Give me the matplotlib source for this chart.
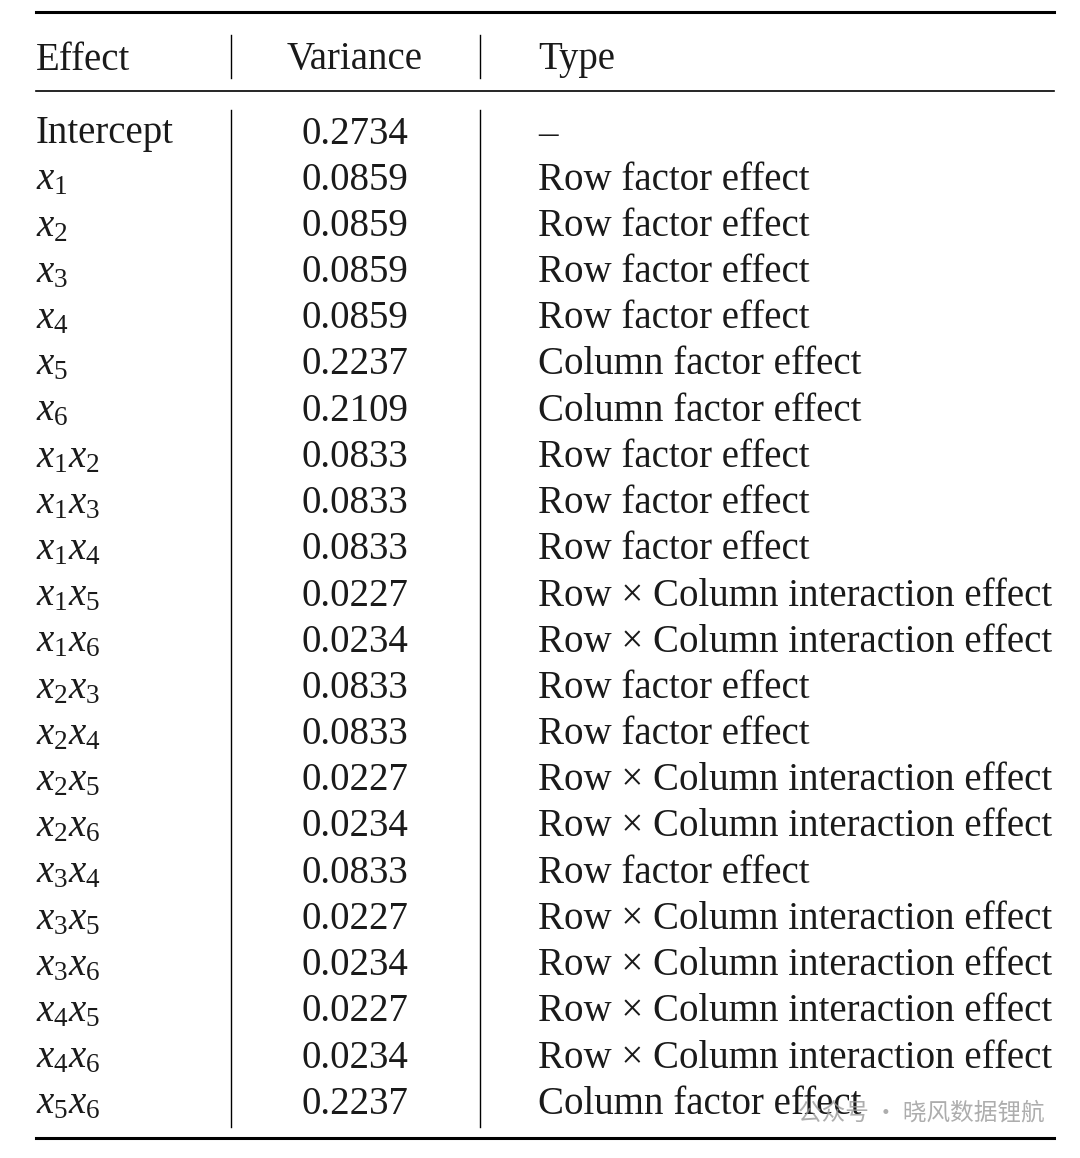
import matplotlib.pyplot as plt

plt.rcParams['mathtext.fontset'] = 'custom'
plt.rcParams['mathtext.rm'] = 'Liberation Serif'
plt.rcParams['mathtext.it'] = 'Liberation Serif:italic'

headers = ["Effect", "Variance", "Type"]
effects = ["Intercept", "x_1", "x_2", "x_3", "x_4", "x_5", "x_6",
           "x_1x_2", "x_1x_3", "x_1x_4", "x_1x_5", "x_1x_6",
           "x_2x_3", "x_2x_4", "x_2x_5", "x_2x_6",
           "x_3x_4", "x_3x_5", "x_3x_6", "x_4x_5", "x_4x_6", "x_5x_6"]
variances = ["0.2734", "0.0859", "0.0859", "0.0859", "0.0859", "0.2237", "0.2109",
             "0.0833", "0.0833", "0.0833", "0.0227", "0.0234",
             "0.0833", "0.0833", "0.0227", "0.0234",
             "0.0833", "0.0227", "0.0234", "0.0227", "0.0234", "0.2237"]
R = "Row factor effect"
C = "Column factor effect"
I = "Row \u00d7 Column interaction effect"
types = ["\u2013", R, R, R, R, C, C, R, R, R, I, I, R, R, I, I, R, I, I, I, I, C]


def math_label(e):
    if e == "Intercept":
        return e
    out = ""
    for part in e.split("x_")[1:]:
        out += "\\mathit{x}_{" + part + "}"
    return "$" + out + "$"


fig = plt.figure(figsize=(10.8, 11.58), dpi=100)
ax = fig.add_axes([0, 0, 1, 1])
ax.set_xlim(0, 1080)
ax.set_ylim(1158, 0)
ax.axis('off')

fs = 28
font = dict(family='Liberation Serif', fontsize=fs, color='#1a1a1a')

ax.text(36, 60, headers[0], ha='left', va='center', **font)
ax.text(355, 60, headers[1], ha='center', va='center', **font)
ax.text(538, 60, headers[2], ha='left', va='center', **font)

y0, dy = 134, 46.2
for i, (e, v, t) in enumerate(zip(effects, variances, types)):
    y = y0 + i * dy
    ax.text(36, y, math_label(e), ha='left', va='center', **font)
    ax.text(355, y, v, ha='center', va='center', **font)
    ax.text(538, y, t, ha='left', va='center', **font)

ax.plot([36, 1054], [12, 12], color='black', lw=2.2)
ax.plot([36, 1054], [91, 91], color='black', lw=1.2)
ax.plot([36, 1054], [1138, 1138], color='black', lw=2.2)
for x in (231, 480):
    ax.plot([x, x], [35, 78], color='black', lw=1)
    ax.plot([x, x], [110, 1127], color='black', lw=1)

ax.text(1045, 1113, "\u516c\u4f17\u53f7 \u00b7 \u6653\u98ce\u6570\u636e\u9502\u822a", ha='right', va='center',
        family=['Noto Sans CJK SC', 'DejaVu Sans'], fontsize=17, color='#999999', alpha=0.8)

fig.savefig("out.png", dpi=100)
